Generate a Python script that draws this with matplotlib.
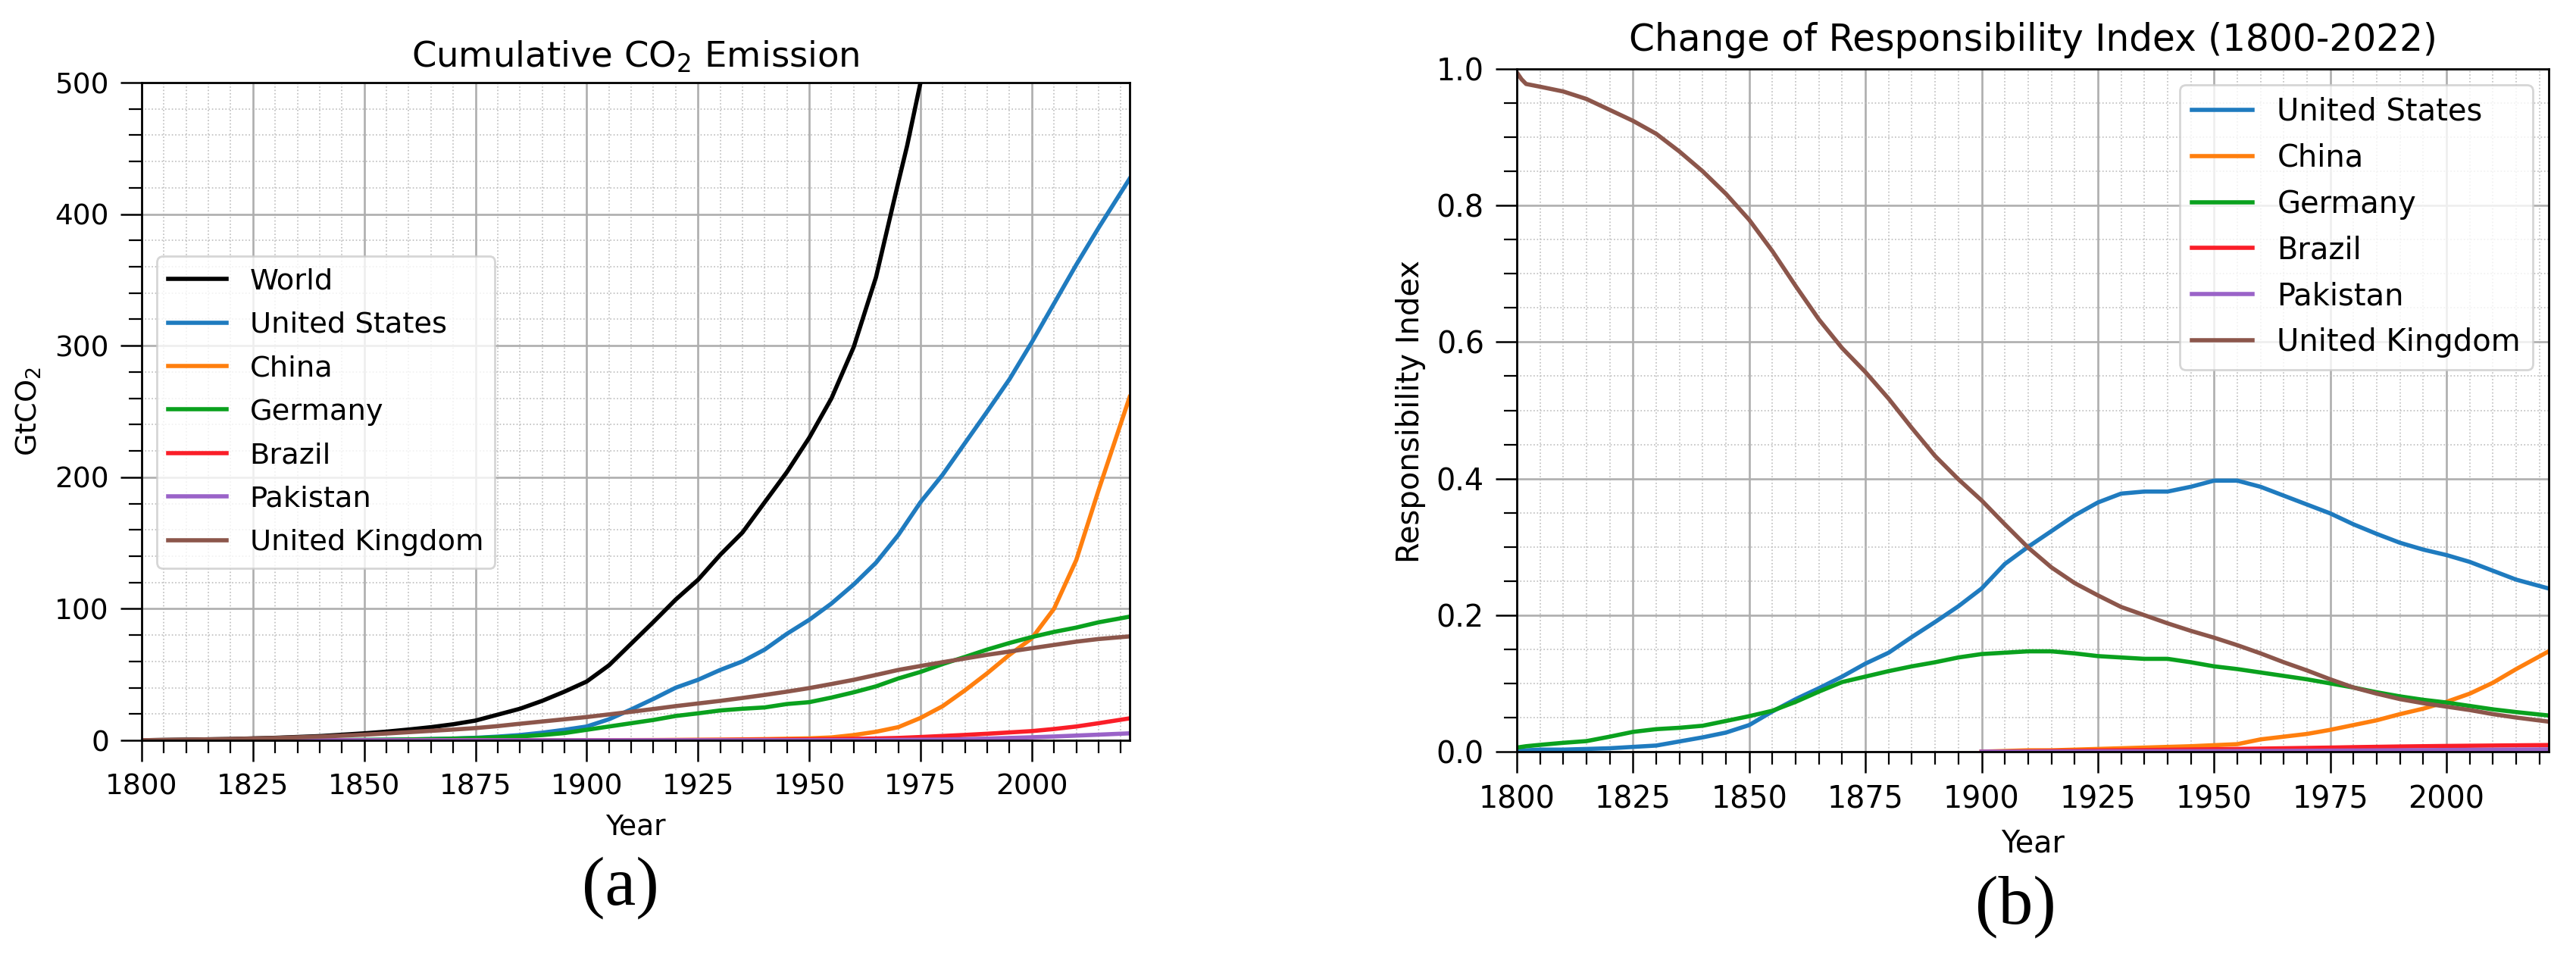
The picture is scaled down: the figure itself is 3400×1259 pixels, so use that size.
import matplotlib
matplotlib.use("Agg")
import matplotlib.pyplot as plt
from matplotlib.ticker import MultipleLocator

# ---- data ----
# (a) cumulative CO2 emission, GtCO2
world_years = [1800, 1810, 1820, 1830, 1840, 1850, 1855, 1860, 1865, 1870, 1875, 1880,
               1885, 1890, 1895, 1900, 1905, 1910, 1915, 1920, 1925, 1930, 1935, 1940,
               1945, 1950, 1955, 1960, 1965, 1970, 1972, 1975, 1977]
world_cum = [0.05, 0.5, 1.0, 1.9, 3.2, 5.3, 6.6, 8.2, 10.0, 12.2, 15.0, 19.5,
             24.0, 30.0, 37.0, 44.7, 57.0, 73.5, 90.0, 107, 122, 141, 158, 181,
             204, 230, 260, 299, 352, 424, 452, 500, 535]

cum_years = [1800, 1810, 1820, 1830, 1840, 1850, 1855, 1860, 1865, 1870, 1875, 1880,
             1885, 1890, 1895, 1900, 1905, 1910, 1915, 1920, 1925, 1930, 1935, 1940,
             1945, 1950, 1955, 1960, 1965, 1970, 1975, 1980, 1985, 1990, 1995, 2000,
             2005, 2010, 2015, 2022]
us_cum = [0, 0.005, 0.01, 0.03, 0.1, 0.25, 0.4, 0.65, 0.95, 1.35, 1.9, 2.8,
          4.0, 5.8, 8.0, 10.5, 16, 23.5, 31.5, 40, 46, 53.5, 60, 69,
          81, 91.6, 104, 118.5, 135, 156, 181, 202, 226, 250, 274.5, 302.5,
          332, 361.5, 389.5, 427]
china_cum = [0, 0, 0, 0, 0, 0, 0, 0, 0, 0, 0, 0,
             0, 0, 0, 0.05, 0.1, 0.15, 0.2, 0.3, 0.4, 0.5, 0.7, 0.9,
             1.2, 1.5, 2.2, 4.0, 6.5, 10, 17, 26, 38, 51, 65, 77.5,
             100, 137, 190, 261]
germany_cum = [0.002, 0.01, 0.03, 0.07, 0.14, 0.3, 0.43, 0.64, 0.9, 1.25, 1.65, 2.3,
               3.0, 4.0, 5.5, 8.0, 10.5, 13.0, 15.5, 18.5, 20.5, 22.7, 24, 25,
               27.6, 29, 32.5, 36.5, 41, 47, 52, 58, 63.4, 69, 74, 78.5,
               82.4, 85.7, 89.7, 94]
brazil_cum = [0, 0, 0, 0, 0, 0, 0, 0, 0, 0, 0, 0,
              0, 0, 0, 0.02, 0.04, 0.07, 0.1, 0.15, 0.2, 0.27, 0.35, 0.45,
              0.57, 0.7, 0.9, 1.1, 1.4, 1.8, 2.5, 3.3, 4.1, 5.0, 6.0, 7.0,
              8.6, 10.5, 13, 16.7]
pakistan_cum = [0, 0, 0, 0, 0, 0, 0, 0, 0, 0, 0, 0,
                0, 0, 0, 0, 0, 0, 0, 0, 0, 0, 0.01, 0.02,
                0.03, 0.05, 0.08, 0.12, 0.2, 0.3, 0.45, 0.6, 0.9, 1.3, 1.8, 2.3,
                2.9, 3.6, 4.3, 5.3]
uk_cum = [0.05, 0.5, 1.0, 1.75, 2.8, 4.3, 5.2, 6.2, 7.2, 8.2, 9.3, 10.8,
          12.6, 14.3, 16.0, 17.7, 19.7, 21.7, 23.8, 26, 28, 30, 32.2, 34.5,
          37, 39.7, 42.8, 46, 49.7, 53.5, 56.5, 59.4, 62.2, 65, 67.5, 70,
          72.5, 75, 77, 79]

# (b) responsibility index
ri_years = [1800, 1801, 1802, 1805, 1810, 1815, 1820, 1825, 1830, 1835, 1840, 1845,
            1850, 1855, 1860, 1865, 1870, 1875, 1880, 1885, 1890, 1895, 1900, 1905,
            1910, 1915, 1920, 1925, 1930, 1935, 1940, 1945, 1950, 1955, 1960, 1965,
            1970, 1975, 1980, 1985, 1990, 1995, 2000, 2005, 2010, 2015, 2022]
us_ri = [0.002, 0.002, 0.002, 0.003, 0.003, 0.004, 0.005, 0.007, 0.009, 0.015, 0.021, 0.028,
         0.039, 0.059, 0.077, 0.093, 0.11, 0.129, 0.145, 0.168, 0.19, 0.213, 0.239, 0.275,
         0.30, 0.323, 0.346, 0.365, 0.378, 0.381, 0.381, 0.388, 0.397, 0.397, 0.388, 0.375,
         0.362, 0.349, 0.333, 0.319, 0.306, 0.296, 0.288, 0.278, 0.265, 0.252, 0.239]
germany_ri = [0.006, 0.007, 0.008, 0.010, 0.013, 0.0155, 0.022, 0.029, 0.033, 0.035, 0.038, 0.045,
              0.052, 0.060, 0.073, 0.088, 0.102, 0.110, 0.118, 0.125, 0.131, 0.138, 0.143, 0.145,
              0.147, 0.147, 0.144, 0.140, 0.138, 0.136, 0.136, 0.131, 0.125, 0.121, 0.116, 0.111,
              0.106, 0.100, 0.094, 0.087, 0.081, 0.076, 0.072, 0.067, 0.062, 0.058, 0.053]
uk_ri = [0.995, 0.985, 0.978, 0.974, 0.967, 0.956, 0.940, 0.924, 0.905, 0.879, 0.850, 0.817,
         0.779, 0.733, 0.682, 0.633, 0.591, 0.556, 0.517, 0.474, 0.433, 0.399, 0.368, 0.333,
         0.299, 0.270, 0.247, 0.229, 0.212, 0.200, 0.188, 0.177, 0.167, 0.156, 0.144, 0.131,
         0.119, 0.106, 0.094, 0.085, 0.077, 0.071, 0.066, 0.061, 0.055, 0.050, 0.044]

ri_late_years = [1900, 1905, 1910, 1915, 1920, 1925, 1930, 1935, 1940, 1945, 1950, 1955,
                 1960, 1965, 1970, 1975, 1980, 1985, 1990, 1995, 2000, 2005, 2010, 2015, 2022]
china_ri = [0.0, 0.001, 0.002, 0.002, 0.003, 0.004, 0.005, 0.006, 0.007, 0.008, 0.0095, 0.011,
            0.018, 0.022, 0.026, 0.032, 0.039, 0.046, 0.055, 0.063, 0.073, 0.085, 0.101, 0.121, 0.147]
brazil_ri = [0.0, 0.0003, 0.0006, 0.001, 0.0013, 0.0017, 0.002, 0.0024, 0.0028, 0.0032, 0.0036, 0.004,
             0.0045, 0.005, 0.0055, 0.006, 0.0066, 0.0071, 0.0076, 0.008, 0.0084, 0.0087, 0.009, 0.0093, 0.0097]
pakistan_ri = [0.0, 0.0, 0.0, 0.0001, 0.0002, 0.0003, 0.0004, 0.0005, 0.0006, 0.0007, 0.0008, 0.0009,
               0.001, 0.0011, 0.0013, 0.0015, 0.0017, 0.0019, 0.0021, 0.0023, 0.0025, 0.0027, 0.0029, 0.0031, 0.0034]

colors = {
    "World": "black",
    "United States": "#1f7bbf",
    "China": "#ff7f0e",
    "Germany": "#0aa11e",
    "Brazil": "#fa1e28",
    "Pakistan": "#9a63c8",
    "United Kingdom": "#8c564b",
}

W, H = 3400, 1259
fig = plt.figure(figsize=(W / 100, H / 100), dpi=100)


def px_axes(left, top, right, bottom):
    return fig.add_axes([left / W, (H - bottom) / H, (right - left) / W, (bottom - top) / H])


def style_axes(ax, fs):
    for sp in ax.spines.values():
        sp.set_linewidth(2.0)
    ax.tick_params(which="major", direction="out", length=20, width=1.8,
                   labelsize=fs, pad=11)
    ax.tick_params(which="minor", direction="out", length=12, width=1.6)
    ax.grid(which="major", color="#aeaeae", linewidth=1.9)
    ax.grid(which="minor", color="#bdbdbd", linewidth=1.2, linestyle=":")
    ax.set_axisbelow(True)


lw = 4.0

# ---- (a) ----
ax1 = px_axes(187, 109, 1491, 977)
ax1.plot(world_years, world_cum, color=colors["World"], lw=lw, label="World")
ax1.plot(cum_years, us_cum, color=colors["United States"], lw=lw, label="United States")
ax1.plot(cum_years, china_cum, color=colors["China"], lw=lw, label="China")
ax1.plot(cum_years, germany_cum, color=colors["Germany"], lw=lw, label="Germany")
ax1.plot(cum_years, brazil_cum, color=colors["Brazil"], lw=lw, label="Brazil")
ax1.plot(cum_years, pakistan_cum, color=colors["Pakistan"], lw=lw, label="Pakistan")
ax1.plot(cum_years, uk_cum, color=colors["United Kingdom"], lw=lw, label="United Kingdom")
ax1.set_xlim(1800, 2022)
ax1.set_ylim(0, 500)
ax1.xaxis.set_major_locator(MultipleLocator(25))
ax1.xaxis.set_minor_locator(MultipleLocator(5))
ax1.yaxis.set_major_locator(MultipleLocator(100))
ax1.yaxis.set_minor_locator(MultipleLocator(20))
style_axes(ax1, 27)
ax1.set_title("Cumulative CO$_2$ Emission", fontsize=33.5, pad=15)
ax1.set_xlabel("Year", fontsize=27)
ax1.set_ylabel("GtCO$_2$", fontsize=27.5)
ax1.xaxis.set_label_coords(0.5, -0.111)
ax1.yaxis.set_label_coords(-0.1, 0.5)
leg1 = ax1.legend(loc="upper left", bbox_to_anchor=(0.0153, 0.736), borderaxespad=0,
                  fontsize=27.6, labelspacing=0.56)
leg1.get_frame().set_linewidth(2)

# ---- (b) ----
ax2 = px_axes(2002, 91, 3364, 992)
ax2.plot(ri_years, us_ri, color=colors["United States"], lw=lw, label="United States")
ax2.plot(ri_late_years, china_ri, color=colors["China"], lw=lw, label="China")
ax2.plot(ri_years, germany_ri, color=colors["Germany"], lw=lw, label="Germany")
ax2.plot(ri_late_years, brazil_ri, color=colors["Brazil"], lw=lw, label="Brazil")
ax2.plot(ri_late_years, pakistan_ri, color=colors["Pakistan"], lw=lw, label="Pakistan")
ax2.plot(ri_years, uk_ri, color=colors["United Kingdom"], lw=lw, label="United Kingdom")
ax2.set_xlim(1800, 2022)
ax2.set_ylim(0, 1.0)
ax2.xaxis.set_major_locator(MultipleLocator(25))
ax2.xaxis.set_minor_locator(MultipleLocator(5))
ax2.yaxis.set_major_locator(MultipleLocator(0.2))
ax2.yaxis.set_minor_locator(MultipleLocator(0.05))
style_axes(ax2, 28.5)
ax2.set_title("Change of Responsibility Index (1800-2022)", fontsize=35, pad=17)
ax2.set_xlabel("Year", fontsize=28.5)
ax2.set_ylabel("Responsibility Index", fontsize=28.8)
ax2.xaxis.set_label_coords(0.5, -0.113)
ax2.yaxis.set_label_coords(-0.088, 0.498)
leg2 = ax2.legend(loc="upper right", bbox_to_anchor=(0.9846, 0.9767), borderaxespad=0,
                  fontsize=28.8, labelspacing=0.52)
leg2.get_frame().set_linewidth(2)

# sub-captions
fig.text(819 / W, (H - 1172) / H, "(a)", fontsize=66, family="Liberation Serif",
         ha="center", va="center")
fig.text(2660 / W, (H - 1197) / H, "(b)", fontsize=66, family="Liberation Serif",
         ha="center", va="center")

fig.savefig("out.png", dpi=100)
